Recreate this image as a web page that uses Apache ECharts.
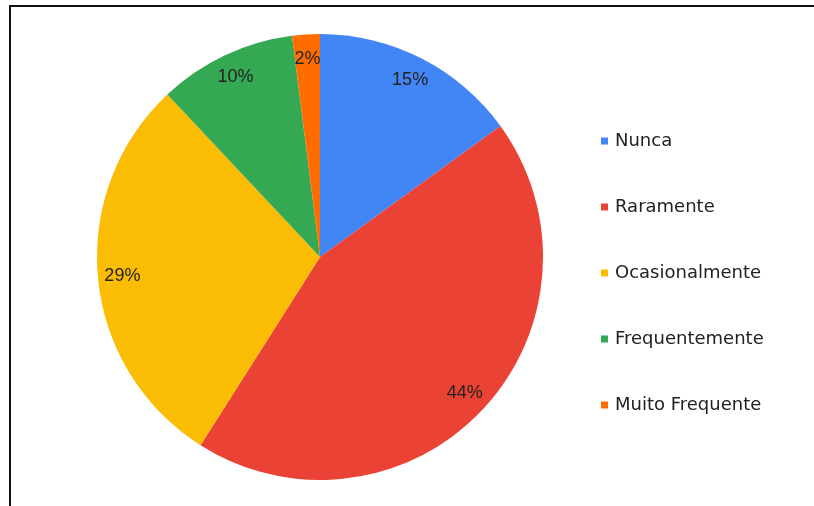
<!DOCTYPE html>
<html>
<head>
<meta charset="utf-8">
<script src="https://cdn.jsdelivr.net/npm/echarts@6/dist/echarts.min.js"></script>
<style>
  html, body { margin: 0; padding: 0; background: #fff; }
  #wrap { position: relative; width: 814px; height: 506px; overflow: hidden; }
  #frame { position: absolute; left: 9px; top: 5px; right: -10px; bottom: -10px;
           border-left: 2px solid #111; border-top: 2px solid #111; }
  #chart { position: absolute; left: 0; top: 0; width: 814px; height: 506px; }
</style>
</head>
<body>
<div id="wrap">
  <div id="chart"></div>
  <div id="frame"></div>
</div>
<script>
// Response categories and their shares (%)
const categories = ['Nunca', 'Raramente', 'Ocasionalmente', 'Frequentemente', 'Muito Frequente'];
const values = [15, 44, 29, 10, 2];
const colors = ['#4285f4', '#ea4335', '#fbbc04', '#34a853', '#ff6d01'];

const center = [320, 257];
const outerR = 223;

const pieData = categories.map((name, i) => ({
  name: name,
  value: values[i],
  itemStyle: { color: colors[i] }
}));

const chart = echarts.init(document.getElementById('chart'), null, { renderer: 'canvas' });
chart.setOption({
  backgroundColor: '#ffffff',
  animation: false,
  color: colors,
  legend: {
    orient: 'vertical',
    left: 596,
    top: 127,
    icon: 'rect',
    itemWidth: 7,
    itemHeight: 7,
    itemGap: 48,
    data: categories,
    textStyle: {
      fontFamily: 'DejaVu Sans, sans-serif',
      fontSize: 18,
      lineHeight: 18,
      color: '#222222',
      padding: [0, 0, 0, 2]
    },
    selectedMode: false
  },
  series: [
    {
      type: 'pie',
      center: center,
      radius: outerR,
      startAngle: 90,
      clockwise: true,
      data: pieData,
      label: { show: false },
      labelLine: { show: false },
      itemStyle: { borderWidth: 0 },
      emphasis: { disabled: true }
    },
    {
      // transparent ring carrying the percentage labels near the rim
      type: 'pie',
      center: center,
      radius: [168, outerR],
      startAngle: 90,
      clockwise: true,
      silent: true,
      data: categories.map((name, i) => ({ name: name, value: values[i] })),
      itemStyle: { color: 'rgba(0,0,0,0)', borderWidth: 0 },
      label: {
        show: true,
        position: 'inside',
        formatter: p => p.value + '%',
        fontFamily: 'Liberation Sans, Arial, sans-serif',
        fontSize: 18,
        color: '#222222'
      },
      labelLine: { show: false },
      emphasis: { disabled: true }
    }
  ]
});
</script>
</body>
</html>
